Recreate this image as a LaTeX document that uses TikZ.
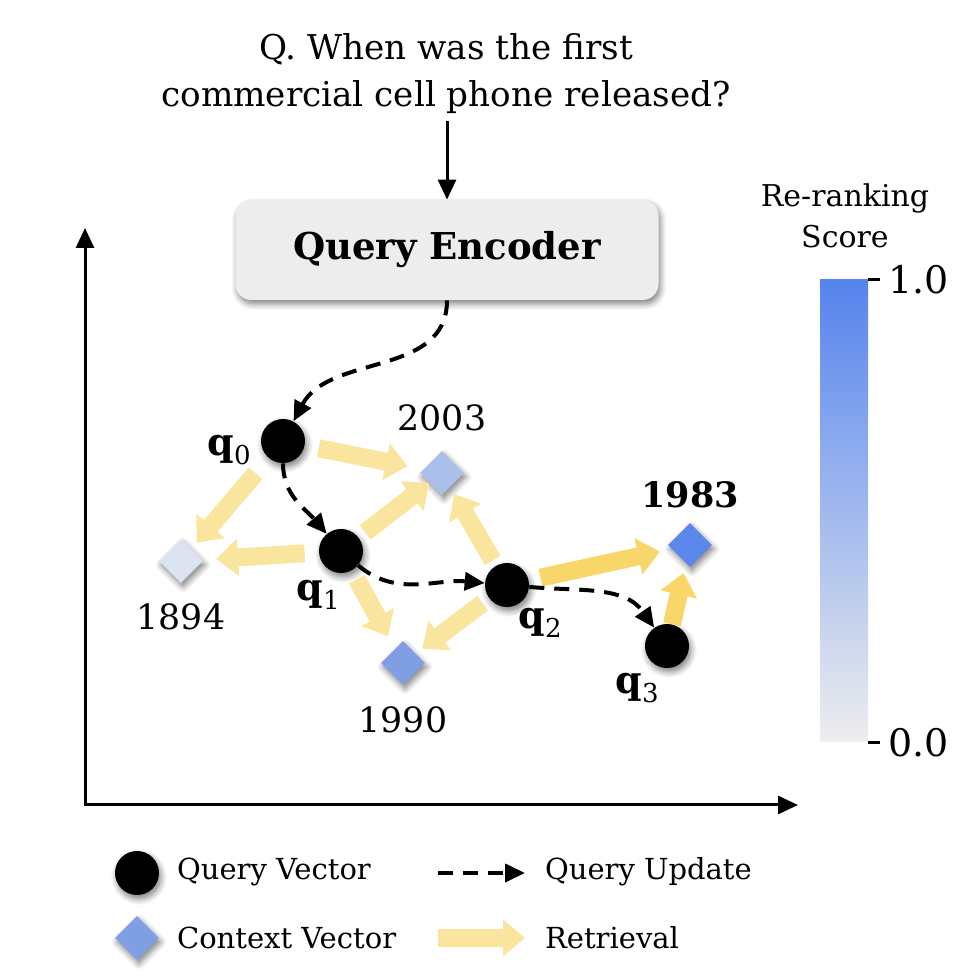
\documentclass[tikz,border=0pt]{standalone}
\usepackage{fontspec}
\setmainfont{DejaVu Serif}
\usetikzlibrary{arrows.meta,shapes.geometric,shadows.blur,positioning}

\definecolor{retrlight}{RGB}{250,229,158}
\definecolor{retrstrong}{RGB}{248,214,105}
\definecolor{encfill}{RGB}{237,237,237}
\definecolor{cbtop}{RGB}{85,132,238}
\definecolor{cbbot}{RGB}{238,238,238}
\definecolor{ctxA}{RGB}{91,134,236}
\definecolor{ctxB}{RGB}{127,158,227}
\definecolor{ctxC}{RGB}{171,191,235}
\definecolor{ctxD}{RGB}{220,227,243}

\newcommand{\qv}[1]{\textbf{q}\raisebox{-0.45ex}{\fontsize{13}{13}\selectfont #1}}

\tikzset{
  softshadow/.style={blur shadow={shadow blur steps=6, shadow xshift=1pt,
      shadow yshift=-2pt, shadow blur radius=3pt, shadow opacity=50}},
  qvec/.style={circle, fill=black, minimum size=22pt, inner sep=0pt, softshadow},
  ctxvec/.style={diamond, fill=#1, minimum size=22pt, inner sep=0pt, softshadow},
  upd/.style={-{Triangle[length=10pt,width=9pt]}, line width=2pt,
      dash pattern=on 7.5pt off 5pt},
  retr/.style={-{Triangle[length=11pt,width=18pt]}, line width=9pt, draw=#1},
  retr/.default=retrlight,
  lbl/.style={font=\fontsize{17.4}{20}\selectfont},
  leg/.style={font=\fontsize{14.5}{18}\selectfont},
  qlbl/.style={font=\fontsize{19}{22}\selectfont},
}

\begin{document}
\begin{tikzpicture}[x=0.5pt,y=0.5pt]
  \useasboundingbox (0,0) rectangle (968,976);

  % question and encoder
  \node[font=\fontsize{17.1}{23.5}\selectfont, align=center] (ques) at (446,902)
    {Q. When was the first\\commercial cell phone released?};
  \node[draw=none, fill=encfill, rounded corners=8pt, minimum width=211.5pt,
    minimum height=50pt, softshadow, font=\fontsize{18.5}{22}\selectfont\bfseries]
    (enc) at (447,726) {Query Encoder};
  \draw[-{Triangle[length=10pt,width=9pt]}, line width=1.5pt]
    (ques.south -| enc.north) -- (enc);

  % axes
  \coordinate (origin) at (85,171);
  \coordinate (ytop) at (85,748);
  \coordinate (xright) at (798,171);
  \draw[{Triangle[length=10pt,width=9pt]}-{Triangle[length=10pt,width=9pt]},
    line width=1.5pt] (ytop) -- (origin) -- (xright);

  % context vectors
  \node[ctxvec=ctxC] (c2003) at (442,503) {};
  \node[ctxvec=ctxD] (c1894) at (181,415) {};
  \node[ctxvec=ctxB] (c1990) at (403,313) {};
  \node[ctxvec=ctxA] (c1983) at (690,431) {};
  \node[lbl] (l2003) at (442,558) {2003};
  \node[lbl] (l1894) at (181,359) {1894};
  \node[lbl] (l1990) at (403,256) {1990};
  \node[lbl, font=\fontsize{17.5}{20}\selectfont\bfseries] (l1983) at (690,481) {1983};

  % query vectors
  \node[qvec] (q0) at (283,535) {};
  \node[qvec] (q1) at (341,425) {};
  \node[qvec] (q2) at (507,391) {};
  \node[qvec] (q3) at (667,330) {};
  \node[qlbl] (lq0) at (229,526) {\qv{0}};
  \node[qlbl] (lq1) at (318,381) {\qv{1}};
  \node[qlbl] (lq2) at (540,353) {\qv{2}};
  \node[qlbl] (lq3) at (637,288) {\qv{3}};

  % retrieval
  \draw[retr, shorten <=7pt, shorten >=8pt] (q0) -- (c2003);
  \draw[retr, shorten <=10pt, shorten >=4pt] (q0) -- (c1894);
  \draw[retr, shorten <=7pt, shorten >=7pt] (q1) -- (c1894);
  \draw[retr, shorten <=4pt, shorten >=0pt] (q1) -- (c2003);
  \draw[retr, shorten <=5pt, shorten >=7pt] (q1) -- (c1990);
  \draw[retr, shorten <=3pt, shorten >=4pt] (q2) -- (c2003);
  \draw[retr, shorten <=4pt, shorten >=4pt] (q2) -- (c1990);
  \draw[retr=retrstrong, shorten <=6pt, shorten >=6pt] (q2) -- (c1983);
  \draw[retr=retrstrong, shorten <=0pt, shorten >=5pt] (q3) -- (c1983);

  % query updates
  \draw[upd] (enc.south) to[out=-90, in=62] (q0);
  \draw[upd] (q0) to[out=-90, in=130] (q1);
  \draw[upd] (q1) to[out=-40, in=175] (q2);
  \draw[upd] (q2) to[out=-5, in=125] (q3);

  % colour bar
  \node[align=center, font=\fontsize{15}{20.5}\selectfont] (cbtitle)
    at (845,760) {Re-ranking\\Score};
  \node[minimum width=24pt, minimum height=231pt, inner sep=0pt,
    top color=cbtop, bottom color=cbbot] (cbar) at (844,465) {};
  \draw[line width=1.5pt] (cbar.north east) -- ++(12,0)
    node[right, font=\fontsize{19}{20}\selectfont] (hi) {1.0};
  \draw[line width=1.5pt] (cbar.south east) -- ++(12,0)
    node[right, font=\fontsize{19}{20}\selectfont] (lo) {0.0};

  % legend
  \node[qvec] (legq) at (137,103) {};
  \node[leg, anchor=west] (legqt) at (170,104) {Query Vector};
  \node[ctxvec=ctxB] (legc) at (137,38) {};
  \node[leg, anchor=west] (legct) at (170,38) {Context Vector};
  \coordinate (updA) at (438,103);
  \coordinate (updB) at (525,103);
  \draw[upd] (updA) -- (updB);
  \node[leg, anchor=west] (legut) at (538,104) {Query Update};
  \coordinate (retA) at (438,38);
  \coordinate (retB) at (525,38);
  \draw[retr] (retA) -- (retB);
  \node[leg, anchor=west] (legrt) at (538,38) {Retrieval};
\end{tikzpicture}
\end{document}
